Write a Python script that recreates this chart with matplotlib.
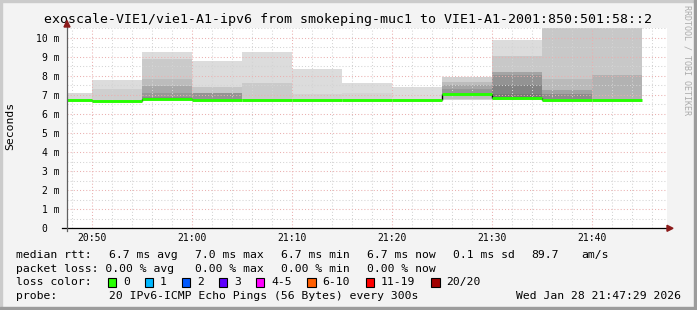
import re
import matplotlib
matplotlib.use("Agg")
import matplotlib.pyplot as plt
from matplotlib.patches import Rectangle, Polygon

W, H = 697, 310
MONO = "DejaVu Sans Mono"

# ---- data ----
title = "exoscale-VIE1/vie1-A1-ipv6 from smokeping-muc1 to VIE1-A1-2001:850:501:58::2"

# segment starts in minutes after 20:00 (5 min steps), last one ends at 21:45
seg_start = [47.5, 50, 55, 60, 65, 70, 75, 80, 85, 90, 95, 100]
seg_end = 105
median_ms = [6.74, 6.69, 6.76, 6.74, 6.75, 6.74, 6.73, 6.73, 7.03, 6.85, 6.73, 6.73]

# smoke bands per segment (outer -> inner), low / high edge in ms
smoke_lo = [
    [6.70],
    [6.66, 6.68],
    [6.72, 6.72, 6.73, 6.74, 6.75, 6.76],
    [6.72, 6.72, 6.74],
    [6.72, 6.73],
    [6.72, 6.73],
    [6.70, 6.71],
    [6.70],
    [6.73, 6.80, 6.95, 6.98],
    [6.72, 6.75, 6.78, 6.80, 6.85, 6.88],
    [6.72, 6.74, 6.76, 6.78],
    [6.72, 6.74],
]
smoke_hi = [
    [7.08],
    [7.79, 7.32],
    [9.25, 8.88, 7.83, 7.47, 7.12, 6.90],
    [8.78, 7.43, 7.08],
    [9.24, 7.64],
    [8.36, 7.05],
    [7.63, 7.08],
    [7.43],
    [7.95, 7.69, 7.52, 7.31],
    [9.90, 9.04, 8.18, 8.06, 7.50, 7.07],
    [10.49, 7.83, 7.26, 7.05],
    [10.49, 8.04],
]
smoke_shade = [
    ["#d9d9d9"],
    ["#dcdcdc", "#cfcfcf"],
    ["#dcdcdc", "#cacaca", "#bcbcbc", "#a8a8a8", "#979797", "#8a8a8a"],
    ["#dcdcdc", "#c6c6c6", "#949494"],
    ["#dcdcdc", "#cacaca"],
    ["#dcdcdc", "#d2d2d2"],
    ["#dcdcdc", "#d4d4d4"],
    ["#dcdcdc"],
    ["#d0d0d0", "#bcbcbc", "#a6a6a6", "#969696"],
    ["#dcdcdc", "#c8c8c8", "#a4a4a4", "#939393", "#828282", "#767676"],
    ["#c8c8c8", "#bababa", "#a2a2a2", "#8c8c8c"],
    ["#c8c8c8", "#b2b2b2"],
]

xtick_pos = [50, 60, 70, 80, 90, 100]
xtick_labels = ["20:50", "21:00", "21:10", "21:20", "21:30", "21:40"]
ytick_pos = list(range(0, 11))
ytick_labels = ["0  "] + [f"{v} m" for v in range(1, 11)]

legend_lines = [
    "median rtt:  6.7 ms avg  7.0 ms max  6.7 ms min  6.7 ms now  0.1 ms sd  89.7   am/s",
    "packet loss: 0.00 % avg  0.00 % max  0.00 % min  0.00 % now",
    "loss color:",
    "probe:       20 IPv6-ICMP Echo Pings (56 Bytes) every 300s",
]
loss_names = ["0", "1", "2", "3", "4-5", "6-10", "11-19", "20/20"]
loss_colors = ["#26ff00", "#00b8ff", "#0059ff", "#5e00ff", "#ff00fe", "#ff5e00", "#ff0000", "#a10000"]
timestamp = "Wed Jan 28 21:47:29 2026"


def fx(x):
    return x / W


def fy(y):
    return 1 - y / H


fig = plt.figure(figsize=(W / 100, H / 100), dpi=100, facecolor="#f3f3f3")

# 3d-ish border
fig.patches.append(Rectangle((0, fy(2)), 1, 2 / H, transform=fig.transFigure, color="#cbcbcb", zorder=0))
fig.patches.append(Rectangle((0, 0), 2 / W, 1, transform=fig.transFigure, color="#cbcbcb", zorder=0))
fig.patches.append(Rectangle((0, 0), 1, 3 / H, transform=fig.transFigure, color="#9c9c9c", zorder=0))
fig.patches.append(Rectangle((fx(694), 0), 3 / W, 1, transform=fig.transFigure, color="#9c9c9c", zorder=0))

ax = fig.add_axes([fx(67), fy(228.3), 600 / W, 200.3 / H])
ax.set_facecolor("white")
ax.set_xlim(47.5, 107.5)
ax.set_ylim(0, 10.51)

edges = seg_start + [seg_end]
for i in range(len(seg_start)):
    x0, x1 = edges[i], edges[i + 1]
    for lo, hi, shade in zip(smoke_lo[i], smoke_hi[i], smoke_shade[i]):
        ax.bar(x0, hi - lo, width=x1 - x0, bottom=lo, align="edge",
               color=shade, linewidth=0, zorder=1)

ax.vlines(edges[1:-1], median_ms[:-1], median_ms[1:], color="black", lw=1.0, zorder=3)
ax.hlines(median_ms, edges[:-1], edges[1:], color=loss_colors[0], lw=2.1, zorder=4)

# grid, drawn over the smoke like rrdtool does
ax.set_xticks(xtick_pos)
ax.set_xticklabels(xtick_labels)
ax.set_xticks([m for m in range(48, 108, 2) if m % 10], minor=True)
ax.set_yticks(ytick_pos)
ax.set_yticklabels(ytick_labels)
ax.set_yticks([v + 0.5 for v in range(0, 11)], minor=True)
ax.grid(which="major", color="#eab0b0", linestyle=(0, (1, 2)), lw=0.75, zorder=2)
ax.grid(which="minor", color="#d4d4d4", linestyle=(0, (1, 2)), lw=0.75, zorder=2)
ax.tick_params(which="both", length=0)
ax.tick_params(axis="x", pad=3.5, labelsize=7)
ax.tick_params(axis="y", pad=5.2, labelsize=7)
for lab in ax.get_xticklabels() + ax.get_yticklabels():
    lab.set_family(MONO)

for s in ax.spines.values():
    s.set_visible(False)

# axis lines and arrows
ax.plot([-5 / 600, 1.0], [0, 0], transform=ax.transAxes, color="black", lw=0.9, clip_on=False, zorder=5)
ax.plot([0, 0], [-3 / 200, 1.015], transform=ax.transAxes, color="#606060", lw=0.9, clip_on=False, zorder=5)
fig.patches.append(Polygon([(fx(67), fy(20.5)), (fx(64), fy(27)), (fx(70), fy(27))],
                           closed=True, transform=fig.transFigure, color="#8b1a1a", zorder=6))
fig.patches.append(Polygon([(fx(673), fy(228.3)), (fx(667), fy(225.3)), (fx(667), fy(231.3))],
                           closed=True, transform=fig.transFigure, color="#8b1a1a", zorder=6))

# texts
fig.text(fx(348), fy(19.5), title, ha="center", va="center", family=MONO, fontsize=9.5)
fig.text(fx(10.5), fy(126), "Seconds", rotation=90, ha="center", va="center", family=MONO, fontsize=8.2)
fig.text(fx(687), fy(60), "RRDTOOL / TOBI OETIKER", rotation=270, ha="center", va="center",
         family=MONO, fontsize=6, color="#ababab")

CW = 7.16
X0 = 16
line_y = [255, 268.5, 282.3, 296]


def mono_line(text, x0, y, size=8.2):
    for m in re.finditer(r"\S+(?: \S+)*", text):
        fig.text(fx(x0 + m.start() * CW), fy(y), m.group(), ha="left", va="center",
                 family=MONO, fontsize=size)


for txt, y in zip(legend_lines, line_y):
    mono_line(txt, X0, y)

sq_x = X0 + 13 * CW - 1
for name, col in zip(loss_names, loss_colors):
    fig.patches.append(Rectangle((fx(sq_x), fy(286.7)), 8.4 / W, 8.4 / H, transform=fig.transFigure,
                                 facecolor=col, edgecolor="black", lw=0.8, zorder=5))
    fig.text(fx(sq_x + 15), fy(line_y[2]), name, ha="left", va="center", family=MONO, fontsize=8.2)
    sq_x += 15 + len(name) * CW + 14.8

fig.text(fx(680.5), fy(line_y[3]), timestamp, ha="right", va="center", family=MONO, fontsize=8.2)

fig.savefig("out.png", dpi=100, facecolor=fig.get_facecolor())
